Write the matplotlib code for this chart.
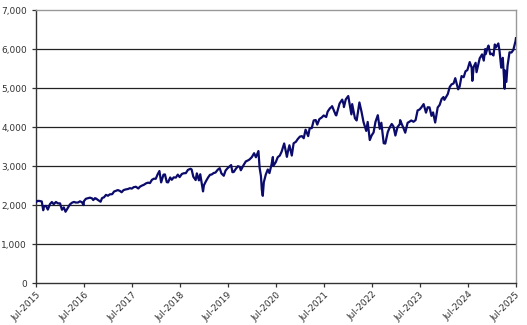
import numpy as np
import pandas as pd
import matplotlib
matplotlib.use('Agg')
import matplotlib.pyplot as plt
import matplotlib.dates as mdates

dates = [
    '2015-07-01', '2015-07-15', '2015-07-31', '2015-08-14', '2015-08-25', '2015-08-31',
    '2015-09-15', '2015-09-29', '2015-10-15', '2015-10-30', '2015-11-13', '2015-11-30',
    '2015-12-15', '2015-12-31', '2016-01-15', '2016-01-29', '2016-02-11', '2016-02-29',
    '2016-03-15', '2016-03-31', '2016-04-15', '2016-04-29', '2016-05-16', '2016-05-31',
    '2016-06-15', '2016-06-27', '2016-06-30', '2016-07-15', '2016-07-29', '2016-08-15',
    '2016-08-31', '2016-09-09', '2016-09-22', '2016-09-30', '2016-10-14', '2016-11-04',
    '2016-11-15', '2016-11-30', '2016-12-15', '2016-12-30', '2017-01-13', '2017-01-31',
    '2017-02-15', '2017-02-28', '2017-03-15', '2017-03-31', '2017-04-13', '2017-04-28',
    '2017-05-15', '2017-05-31', '2017-06-15', '2017-06-30', '2017-07-14', '2017-07-31',
    '2017-08-18', '2017-08-31', '2017-09-15', '2017-09-29', '2017-10-16', '2017-10-31',
    '2017-11-15', '2017-11-30', '2017-12-15', '2017-12-29', '2018-01-12', '2018-01-26',
    '2018-02-08', '2018-02-26', '2018-03-09', '2018-03-23', '2018-04-02', '2018-04-18',
    '2018-04-30', '2018-05-15', '2018-05-31', '2018-06-15', '2018-06-29', '2018-07-16',
    '2018-07-31', '2018-08-15', '2018-08-31', '2018-09-20', '2018-09-28', '2018-10-11',
    '2018-10-29', '2018-11-07', '2018-11-23', '2018-12-03', '2018-12-24', '2018-12-31',
    '2019-01-15', '2019-01-31', '2019-02-15', '2019-02-28', '2019-03-15', '2019-03-29',
    '2019-04-15', '2019-04-30', '2019-05-13', '2019-05-31', '2019-06-14', '2019-06-28',
    '2019-07-26', '2019-08-05', '2019-08-15', '2019-08-30', '2019-09-16', '2019-09-30',
    '2019-10-08', '2019-10-31', '2019-11-15', '2019-11-29', '2019-12-13', '2019-12-31',
    '2020-01-17', '2020-01-31', '2020-02-19', '2020-02-28', '2020-03-09', '2020-03-16',
    '2020-03-23', '2020-03-31', '2020-04-15', '2020-04-30', '2020-05-13', '2020-05-29',
    '2020-06-08', '2020-06-11', '2020-06-30', '2020-07-15', '2020-07-31', '2020-08-14',
    '2020-09-02', '2020-09-23', '2020-09-30', '2020-10-12', '2020-10-30', '2020-11-13',
    '2020-11-30', '2020-12-15', '2020-12-31', '2021-01-15', '2021-01-29', '2021-02-12',
    '2021-03-04', '2021-03-15', '2021-03-31', '2021-04-15', '2021-04-30', '2021-05-12',
    '2021-05-28', '2021-06-15', '2021-06-30', '2021-07-19', '2021-07-30', '2021-08-16',
    '2021-08-31', '2021-09-02', '2021-09-30', '2021-10-04', '2021-10-29', '2021-11-18',
    '2021-11-30', '2021-12-01', '2021-12-15', '2022-01-03', '2022-01-27', '2022-02-02',
    '2022-02-23', '2022-03-08', '2022-03-29', '2022-04-14', '2022-04-29', '2022-05-20',
    '2022-05-31', '2022-06-16', '2022-06-30', '2022-07-15', '2022-07-29', '2022-08-16',
    '2022-08-31', '2022-09-12', '2022-09-30', '2022-10-12', '2022-10-31', '2022-11-15',
    '2022-11-30', '2022-12-13', '2022-12-28', '2023-01-13', '2023-01-31', '2023-02-02',
    '2023-02-28', '2023-03-13', '2023-03-31', '2023-04-14', '2023-04-28', '2023-05-15',
    '2023-05-31', '2023-06-15', '2023-06-30', '2023-07-14', '2023-07-31', '2023-08-18',
    '2023-08-31', '2023-09-14', '2023-09-29', '2023-10-11', '2023-10-27', '2023-11-15',
    '2023-11-30', '2023-12-15', '2023-12-29', '2024-01-05', '2024-01-31', '2024-02-15',
    '2024-02-29', '2024-03-15', '2024-03-28', '2024-04-19', '2024-04-30', '2024-05-15',
    '2024-05-31', '2024-06-14', '2024-06-28', '2024-07-16', '2024-07-31', '2024-08-05',
    '2024-08-15', '2024-08-30', '2024-09-06', '2024-09-30', '2024-10-18', '2024-10-31',
    '2024-11-11', '2024-11-15', '2024-11-29', '2024-12-06', '2024-12-19', '2024-12-31',
    '2025-01-13', '2025-01-23', '2025-01-31', '2025-02-19', '2025-02-28', '2025-03-13',
    '2025-03-25', '2025-04-08', '2025-04-09', '2025-04-21', '2025-04-30', '2025-05-15',
    '2025-05-30', '2025-06-13', '2025-06-30', '2025-07-03',
]
values = [
    2077, 2108, 2104, 2092, 1868, 1972,
    1978, 1884, 2023, 2079, 2023, 2080,
    2043, 2044, 1880, 1940, 1829, 1932,
    2015, 2060, 2081, 2065, 2066, 2097,
    2071, 2000, 2099, 2162, 2174, 2190,
    2171, 2128, 2177, 2168, 2133, 2085,
    2180, 2199, 2262, 2239, 2275, 2279,
    2349, 2364, 2385, 2363, 2329, 2384,
    2402, 2412, 2433, 2423, 2459, 2470,
    2425, 2472, 2500, 2519, 2557, 2575,
    2564, 2648, 2676, 2674, 2786, 2873,
    2581, 2780, 2786, 2588, 2582, 2708,
    2648, 2711, 2705, 2780, 2718, 2798,
    2816, 2819, 2902, 2931, 2914, 2728,
    2641, 2814, 2633, 2790, 2351, 2507,
    2610, 2704, 2776, 2784, 2822, 2834,
    2906, 2946, 2812, 2752, 2887, 2942,
    3026, 2844, 2848, 2926, 2998, 2977,
    2893, 3038, 3120, 3141, 3169, 3231,
    3330, 3226, 3386, 2954, 2747, 2386,
    2237, 2585, 2783, 2912, 2820, 3044,
    3232, 3002, 3100, 3227, 3271, 3373,
    3580, 3237, 3363, 3534, 3270, 3585,
    3622, 3695, 3756, 3768, 3714, 3934,
    3768, 3968, 3973, 4170, 4181, 4063,
    4204, 4246, 4298, 4258, 4395, 4479,
    4523, 4537, 4308, 4300, 4605, 4704,
    4567, 4513, 4709, 4796, 4326, 4589,
    4225, 4170, 4631, 4393, 4132, 3901,
    4132, 3667, 3785, 3863, 4130, 4305,
    3955, 4110, 3586, 3577, 3872, 3991,
    4080, 4019, 3783, 3999, 4077, 4179,
    3970, 3856, 4109, 4137, 4169, 4136,
    4180, 4426, 4450, 4505, 4589, 4370,
    4508, 4505, 4288, 4376, 4117, 4502,
    4568, 4719, 4770, 4697, 4846, 5030,
    5096, 5117, 5254, 4967, 5036, 5308,
    5278, 5431, 5460, 5667, 5522, 5186,
    5543, 5648, 5408, 5762, 5864, 5705,
    6001, 5870, 6032, 6090, 5867, 5882,
    5836, 6119, 6041, 6144, 5955, 5522,
    5776, 4983, 5457, 5158, 5569, 5917,
    5912, 5977, 6205, 6279,
]

tick_years = list(range(2015, 2026))
y_ticks = list(range(0, 7001, 1000))

x = pd.to_datetime(dates)

fig = plt.figure(figsize=(5.27, 3.25), dpi=100)
ax = fig.add_axes([0.0683, 0.129, 0.9107, 0.84])

for yv in y_ticks[1:-1]:
    ax.axhline(yv, color='#222222', lw=0.9, zorder=1)

ax.plot(x, values, color='#0b0b6b', lw=1.6, zorder=3)

ax.set_ylim(0, 7000)
ax.set_xlim(pd.Timestamp('2015-07-01'), pd.Timestamp('2025-07-03'))
ax.set_yticks(y_ticks)
ax.set_yticklabels(['{:,}'.format(v) for v in y_ticks])

tick_dates = [pd.Timestamp('%d-07-01' % yr) for yr in tick_years]
ax.set_xticks(tick_dates)
ax.set_xticklabels(['Jul-%d' % yr for yr in tick_years], rotation=45,
                   ha='right', rotation_mode='anchor')

ax.tick_params(axis='both', labelsize=6.5, colors='#333333', length=3, width=0.9)
ax.tick_params(axis='x', pad=2)

ax.spines['left'].set_color('#333333')
ax.spines['bottom'].set_color('#333333')
ax.spines['top'].set_color('#999999')
ax.spines['right'].set_color('#999999')
for s in ax.spines.values():
    s.set_linewidth(1.0)

fig.savefig('out.png', dpi=100)
